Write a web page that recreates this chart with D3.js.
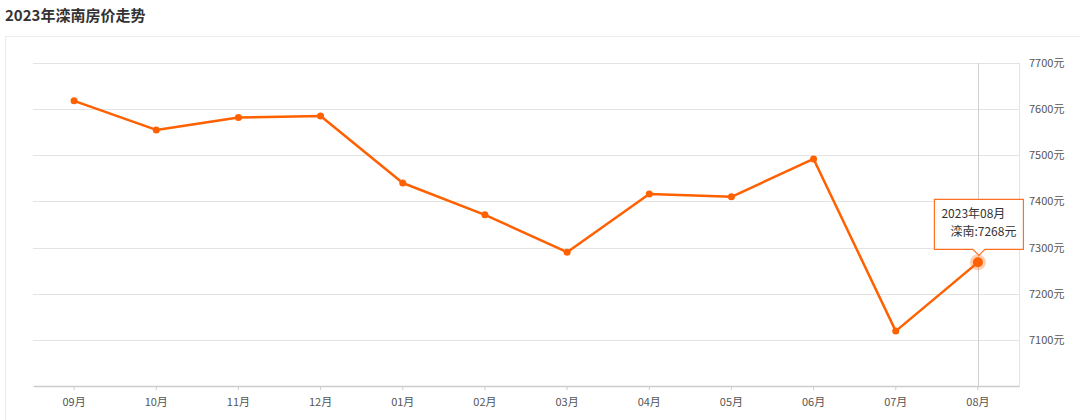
<!DOCTYPE html>
<html><head><meta charset="utf-8">
<script src="https://cdn.jsdelivr.net/npm/d3@7"></script>
<style>body{margin:0;background:#fff;font-family:"Noto Sans CJK SC","Noto Sans",sans-serif;}</style>
</head><body>
<svg id="c" width="1080" height="420"></svg>
<script>
const title = "2023年滦南房价走势";
const months = ["09月","10月","11月","12月","01月","02月","03月","04月","05月","06月","07月","08月"];
const prices = [7618,7555,7582,7585,7440,7371,7290,7416,7410,7492,7119,7268];
const yTicks = [7100,7200,7300,7400,7500,7600,7700];
const seriesName = "滦南";
const tipTitle = "2023年08月";

const svg = d3.select("#c");
const L=33, R=1019, T=63, B=386;
const x = d3.scaleBand().domain(months).range([L,R]).padding(0);
const y = d3.scaleLinear().domain([7000,7700]).range([B,T]);
const cx = d => x(d)+x.bandwidth()/2;

svg.append("text").attr("x",5).attr("y",21).attr("font-size",15).attr("font-weight","bold").attr("fill","#333").text(title);
svg.append("rect").attr("x",5.5).attr("y",36.5).attr("width",1080).attr("height",400).attr("fill","none").attr("stroke","#ececec");

// grid
svg.append("g").selectAll("line").data(yTicks).join("line")
  .attr("x1",L).attr("x2",R).attr("y1",d=>Math.round(y(d))+0.5).attr("y2",d=>Math.round(y(d))+0.5)
  .attr("stroke","#e3e3e3");
svg.append("line").attr("x1",R+0.5).attr("x2",R+0.5).attr("y1",T).attr("y2",B).attr("stroke","#e3e3e3");

// y labels
svg.append("g").selectAll("text").data(yTicks).join("text")
  .attr("x",1029).attr("y",d=>y(d)+4).attr("font-size",11).attr("fill","#555").text(d=>d+"元");

// x axis
const xa = svg.append("g").attr("transform",`translate(0,${B})`).call(d3.axisBottom(x).tickSize(4).tickSizeOuter(0).tickPadding(8));
xa.select(".domain").attr("stroke","#ccc").attr("stroke-width",1.5);
xa.selectAll(".tick line").attr("stroke","#ccc");
xa.selectAll(".tick text").attr("font-size",11).attr("fill","#555").attr("font-family","'Noto Sans CJK SC',sans-serif");

// crosshair
const last = months.length-1;
svg.append("line").attr("x1",Math.round(cx(months[last]))+0.5).attr("x2",Math.round(cx(months[last]))+0.5)
  .attr("y1",T).attr("y2",B).attr("stroke","#d0d0d0");

// line
const line = d3.line().x((d,i)=>cx(months[i])).y(d=>y(d));
svg.append("path").datum(prices).attr("d",line).attr("fill","none").attr("stroke","#ff6000").attr("stroke-width",2.5).attr("stroke-linejoin","round");
svg.append("g").selectAll("circle").data(prices).join("circle")
  .attr("cx",(d,i)=>cx(months[i])).attr("cy",d=>y(d)).attr("r",3.5).attr("fill","#ff6000");

// highlight
const hx = cx(months[last]), hy = y(prices[last]);
svg.append("circle").attr("cx",hx).attr("cy",hy).attr("r",8).attr("fill","#ff6000").attr("opacity",0.3);
svg.append("circle").attr("cx",hx).attr("cy",hy).attr("r",5).attr("fill","#ff6000");

// tooltip
const tw=89, th=50, tx=hx-43.5, ty=hy-63;
const p = `M${tx},${ty} h${tw} v${th} h${-(tw/2-6)} l-6,6 l-6,-6 h${-(tw/2-6)} Z`;
svg.append("path").attr("d",p).attr("fill","#fff").attr("fill-opacity",0.95).attr("stroke","#ff7020").attr("stroke-width",1.2);
svg.append("text").attr("x",tx+7).attr("y",ty+19).attr("font-size",12).attr("fill","#333").text(tipTitle);
svg.append("text").attr("x",tx+tw-7).attr("y",ty+37).attr("text-anchor","end").attr("font-size",12).attr("fill","#333").text(seriesName+":"+prices[last]+"元");
</script>
</body></html>
